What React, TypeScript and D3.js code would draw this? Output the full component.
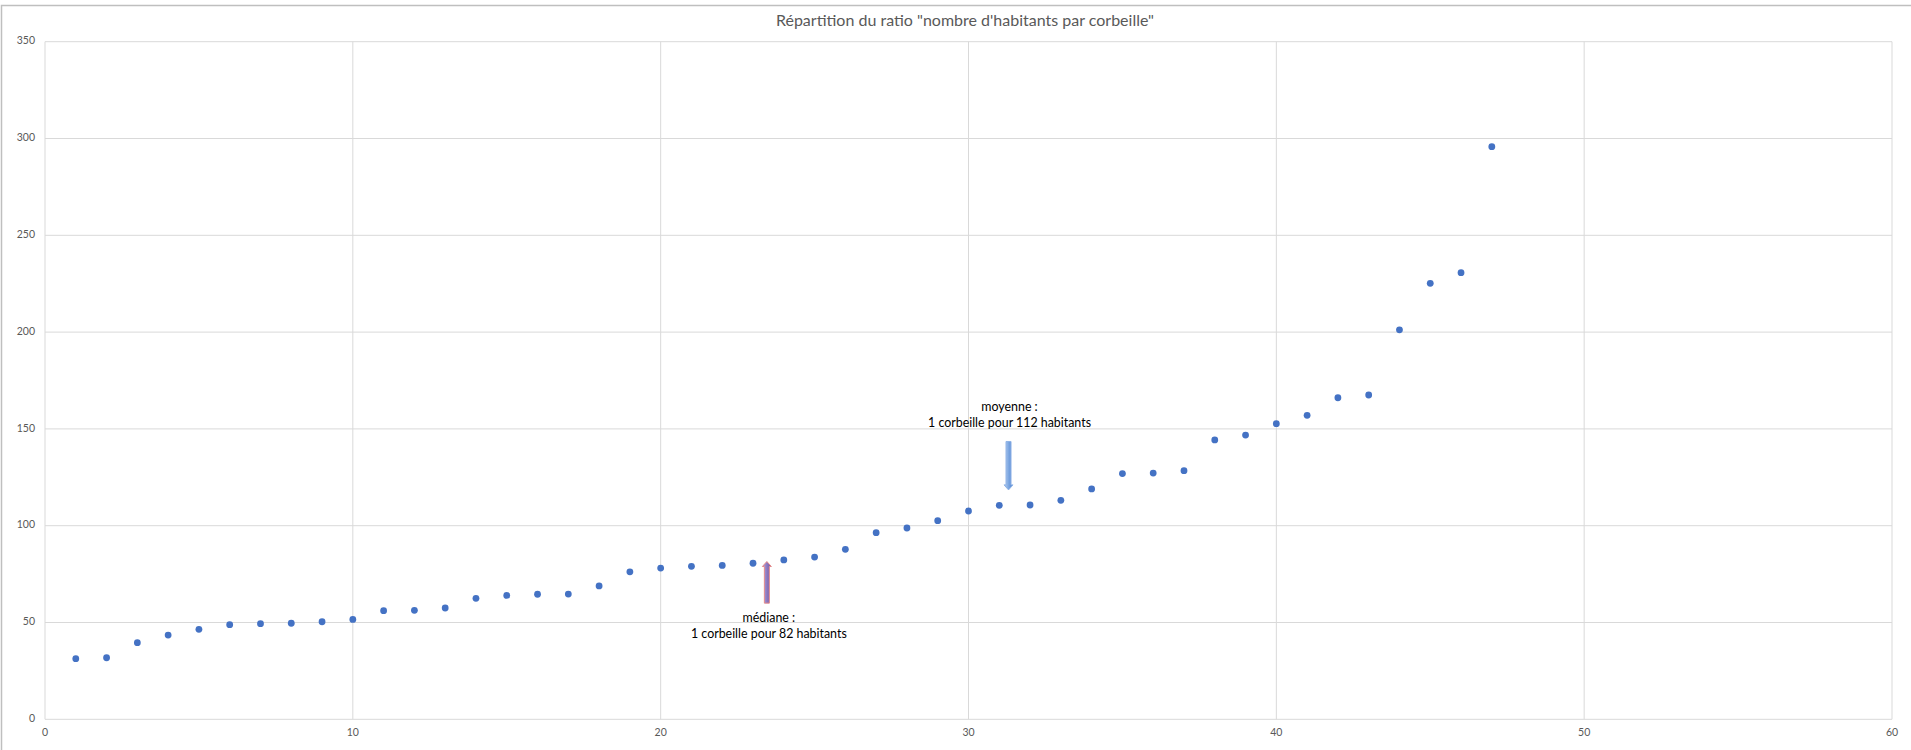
import React from "react";
import * as d3 from "d3";

const ranks: number[] = Array.from({ length: 47 }, (_, i) => i + 1);
const ratios: number[] = [
  31.3, 31.8, 39.6, 43.5, 46.5, 48.9, 49.4, 49.6, 50.4, 51.6,
  56.1, 56.3, 57.5, 62.5, 64.0, 64.6, 64.7, 68.9, 76.2, 78.1,
  79.0, 79.5, 80.6, 82.3, 83.8, 87.8, 96.4, 98.8, 102.6, 107.6,
  110.5, 110.7, 113.1, 119.0, 126.9, 127.2, 128.4, 144.3, 146.8, 152.7,
  157.0, 166.1, 167.5, 201.2, 225.2, 230.7, 295.8,
];
const xTicks: number[] = [0, 10, 20, 30, 40, 50, 60];
const yTicks: number[] = [0, 50, 100, 150, 200, 250, 300, 350];
const title = 'Répartition du ratio "nombre d\'habitants par corbeille"';

const medianNote = { x: 23.45, from: 60, to: 81.5, lines: ["médiane :", "1 corbeille pour 82 habitants"] };
const meanNote = { x: 31.3, from: 143.5, to: 118.5, lines: ["moyenne :", "1 corbeille pour 112 habitants"] };

const W = 1911;
const H = 750;
const left = 45, right = 1892, top = 41.7, bottom = 719.3;
const FONT = "Lato, 'Open Sans', sans-serif";

function arrowPath(x: number, y0: number, y1: number): string {
  const dir = y1 < y0 ? -1 : 1;
  const sw = 2.5, hw = 4.5, hl = 5;
  const neck = y1 - dir * hl;
  return [
    `M${x - sw},${y0}`,
    `L${x - sw},${neck}`,
    `L${x - hw},${neck}`,
    `L${x},${y1}`,
    `L${x + hw},${neck}`,
    `L${x + sw},${neck}`,
    `L${x + sw},${y0}`,
    "Z",
  ].join(" ");
}

export default function App() {
  const x = d3.scaleLinear().domain([0, 60]).range([left, right]);
  const y = d3.scaleLinear().domain([0, 350]).range([bottom, top]);

  const mx = x(medianNote.x);
  const ax = x(meanNote.x);

  return (
    <svg width={W} height={H} style={{ position: "absolute", left: 0, top: 0, background: "#fff" }}>
      <defs>
        <linearGradient id="gMed" x1="0" y1="0" x2="1" y2="0">
          <stop offset="0" stopColor="#b7a6d8" />
          <stop offset="0.5" stopColor="#8d79c0" />
          <stop offset="1" stopColor="#6d56a3" />
        </linearGradient>
        <linearGradient id="gMean" x1="0" y1="0" x2="1" y2="0">
          <stop offset="0" stopColor="#b9d1f0" />
          <stop offset="0.5" stopColor="#7ea8e2" />
          <stop offset="1" stopColor="#4f82cf" />
        </linearGradient>
      </defs>
      <rect x={1.5} y={5.5} width={W + 10} height={H + 10} fill="#fff" stroke="#bfbfbf" strokeWidth={1.5} />
      <text x={965} y={22} textAnchor="middle" dominantBaseline="middle" fontFamily={FONT} fontSize={16} fill="#595959">
        {title}
      </text>
      {yTicks.map((t) => (
        <line key={"gy" + t} x1={left} x2={right} y1={y(t)} y2={y(t)} stroke="#d9d9d9" strokeWidth={1} />
      ))}
      {xTicks.map((t) => (
        <line key={"gx" + t} x1={x(t)} x2={x(t)} y1={top} y2={bottom} stroke="#d9d9d9" strokeWidth={1} />
      ))}
      {yTicks.map((t) => (
        <text key={"ly" + t} x={35} y={y(t)} textAnchor="end" dominantBaseline="middle" fontFamily={FONT} fontSize={10.5} fill="#595959">
          {t}
        </text>
      ))}
      {xTicks.map((t) => (
        <text key={"lx" + t} x={x(t)} y={733} textAnchor="middle" dominantBaseline="middle" fontFamily={FONT} fontSize={10.5} fill="#595959">
          {t}
        </text>
      ))}
      {ranks.map((r, i) => (
        <circle key={"p" + r} cx={x(r)} cy={y(ratios[i])} r={3.4} fill="#4472c4" />
      ))}
      <path d={arrowPath(mx, y(medianNote.from), y(medianNote.to))} fill="url(#gMed)" stroke="#e58a8a" strokeWidth={1} />
      <path d={arrowPath(ax, y(meanNote.from), y(meanNote.to))} fill="url(#gMean)" stroke="#8fb3e6" strokeWidth={1} />
      {medianNote.lines.map((l, i) => (
        <text key={"mt" + i} x={mx + 2} y={619 + i * 16} textAnchor="middle" dominantBaseline="middle" fontFamily={FONT} fontSize={12.4} fill="#000">
          {l}
        </text>
      ))}
      {meanNote.lines.map((l, i) => (
        <text key={"at" + i} x={ax + 1} y={408 + i * 15.5} textAnchor="middle" dominantBaseline="middle" fontFamily={FONT} fontSize={12.4} fill="#000">
          {l}
        </text>
      ))}
    </svg>
  );
}
